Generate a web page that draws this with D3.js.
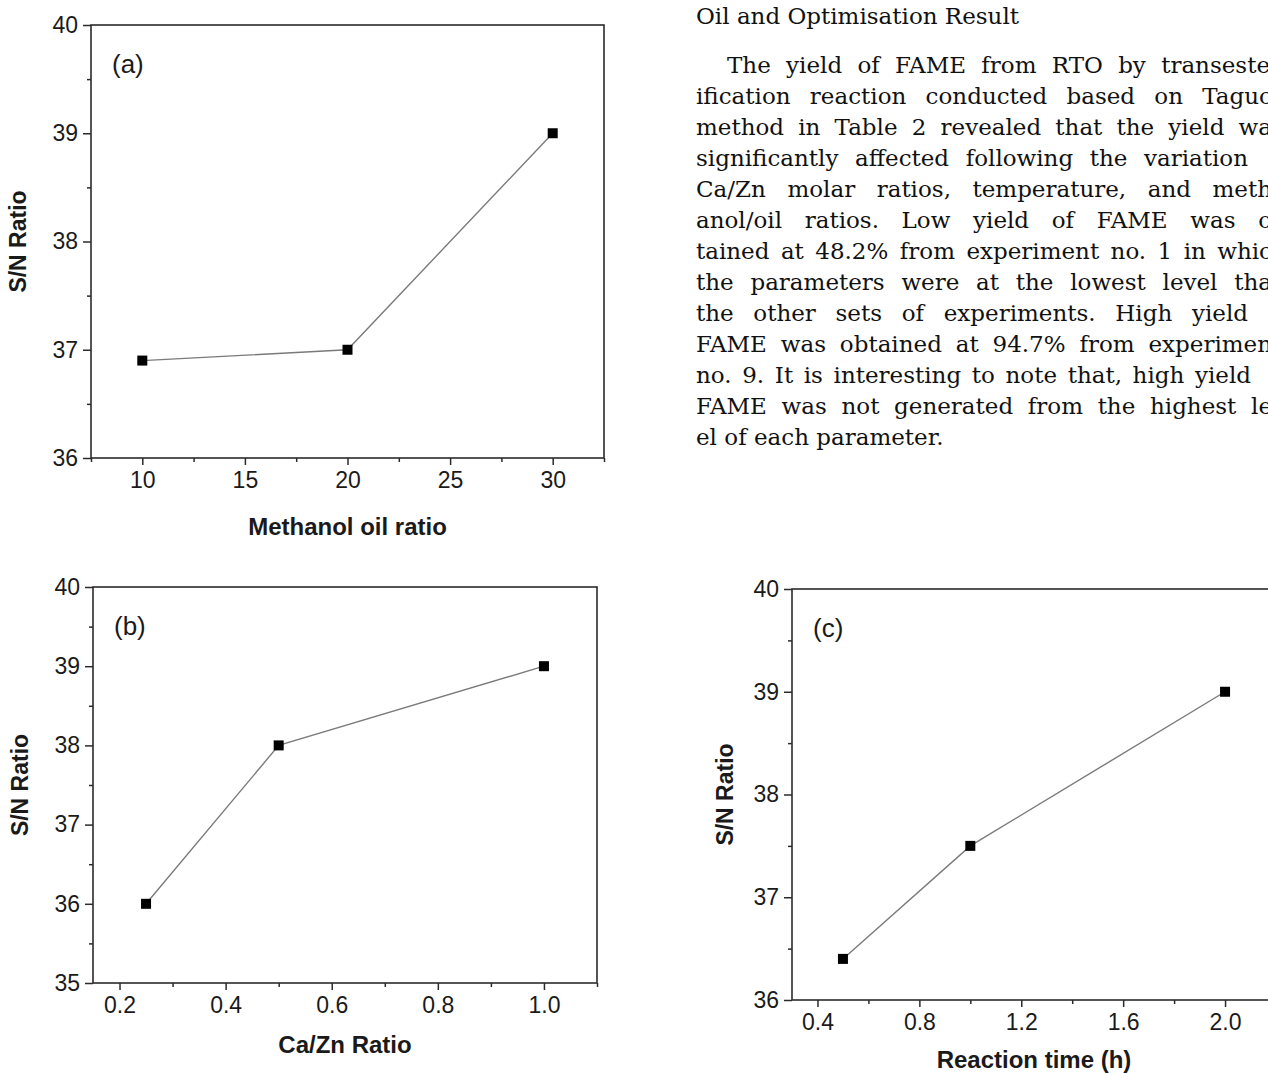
<!DOCTYPE html>
<html>
<head>
<meta charset="utf-8">
<script src="https://cdn.jsdelivr.net/npm/d3@7"></script>
<style>
  html, body { margin: 0; padding: 0; background: #fff; overflow: hidden; }
  svg { display: block; }
</style>
</head>
<body>
<svg id="page" width="1268" height="1073"></svg>
<script>
// ---- Panel (a): S/N ratio vs methanol/oil ratio ----
const methanolRatio = [10, 20, 30];
const snMethanol = [36.9, 37.0, 39.0];
const xTicksA = [10, 15, 20, 25, 30];
const xMinorA = [7.5, 12.5, 17.5, 22.5, 27.5, 32.5];
const yTicksA = [36, 37, 38, 39, 40];
const yMinorA = [36.5, 37.5, 38.5, 39.5];

// ---- Panel (b): S/N ratio vs Ca/Zn ratio ----
const caZnRatio = [0.25, 0.5, 1.0];
const snCaZn = [36.0, 38.0, 39.0];
const xTicksB = [0.2, 0.4, 0.6, 0.8, 1.0];
const xMinorB = [0.3, 0.5, 0.7, 0.9, 1.1];
const yTicksB = [35, 36, 37, 38, 39, 40];
const yMinorB = [35.5, 36.5, 37.5, 38.5, 39.5];

// ---- Panel (c): S/N ratio vs reaction time ----
const reactionTime = [0.5, 1.0, 2.0];
const snTime = [36.4, 37.5, 39.0];
const xTicksC = [0.4, 0.8, 1.2, 1.6, 2.0];
const xMinorC = [0.6, 1.0, 1.4, 1.8, 2.2];
const yTicksC = [36, 37, 38, 39, 40];
const yMinorC = [36.5, 37.5, 38.5, 39.5];

// ---- Body text beside the figures ----
const headingLine = "Oil and Optimisation Result";
const bodyLines = [
  "The yield of FAME from RTO by transeste",
  "ification reaction conducted based on Taguc",
  "method in Table 2 revealed that the yield wa",
  "significantly affected following the variation",
  "Ca/Zn molar ratios, temperature, and meth",
  "anol/oil ratios. Low yield of FAME was o",
  "tained at 48.2% from experiment no. 1 in whic",
  "the parameters were at the lowest level tha",
  "the other sets of experiments. High yield",
  "FAME was obtained at 94.7% from experimen",
  "no. 9. It is interesting to note that, high yield",
  "FAME was not generated from the highest le",
  "el of each parameter."
];

const svg = d3.select("#page");
svg.append("rect").attr("width", 1268).attr("height", 1073).attr("fill", "#fff");

const panels = [
  { label: "(a)", xs: methanolRatio, ys: snMethanol, xTitle: "Methanol oil ratio",
    xDomain: [7.5, 32.5], yDomain: [36, 40],
    xTicks: xTicksA, xMinor: xMinorA, yTicks: yTicksA, yMinor: yMinorA,
    xFmt: d3.format("d"),
    box: { x0: 91, x1: 604, y0: 25, y1: 458 }, xTitleDy: 77, yTitleDx: -65 },
  { label: "(b)", xs: caZnRatio, ys: snCaZn, xTitle: "Ca/Zn Ratio",
    xDomain: [0.15, 1.1], yDomain: [35, 40],
    xTicks: xTicksB, xMinor: xMinorB, yTicks: yTicksB, yMinor: yMinorB,
    xFmt: d3.format(".1f"),
    box: { x0: 93, x1: 597, y0: 587, y1: 983 }, xTitleDy: 70, yTitleDx: -65 },
  { label: "(c)", xs: reactionTime, ys: snTime, xTitle: "Reaction time (h)",
    xDomain: [0.3, 2.2], yDomain: [36, 40],
    xTicks: xTicksC, xMinor: xMinorC, yTicks: yTicksC, yMinor: yMinorC,
    xFmt: d3.format(".1f"),
    box: { x0: 792, x1: 1276, y0: 589, y1: 1000 }, xTitleDy: 68, yTitleDx: -59 }
];

const axisColor = "#2b2b2b";
const sansFont = "Liberation Sans, Arial, Helvetica, sans-serif";

panels.forEach(p => {
  const b = p.box;
  const x = d3.scaleLinear().domain(p.xDomain).range([b.x0, b.x1]);
  const y = d3.scaleLinear().domain(p.yDomain).range([b.y1, b.y0]);
  const g = svg.append("g");

  // minor ticks
  g.append("g").attr("transform", `translate(0,${b.y1})`)
    .call(d3.axisBottom(x).tickValues(p.xMinor).tickSize(4).tickFormat(""));
  g.append("g").attr("transform", `translate(${b.x0},0)`)
    .call(d3.axisLeft(y).tickValues(p.yMinor).tickSize(4).tickFormat(""));

  // major ticks with labels
  g.append("g").attr("transform", `translate(0,${b.y1})`)
    .call(d3.axisBottom(x).tickValues(p.xTicks).tickSize(7).tickPadding(7).tickFormat(p.xFmt));
  g.append("g").attr("transform", `translate(${b.x0},0)`)
    .call(d3.axisLeft(y).tickValues(p.yTicks).tickSize(8).tickPadding(5).tickFormat(d3.format("d")));

  g.selectAll(".domain").remove();
  g.selectAll(".tick line").attr("stroke", axisColor).attr("stroke-width", 1.5);
  g.selectAll(".tick text")
    .attr("fill", "#1a1a1a")
    .style("font-family", sansFont)
    .style("font-size", "23px");

  // frame
  g.append("rect")
    .attr("x", b.x0).attr("y", b.y0)
    .attr("width", b.x1 - b.x0).attr("height", b.y1 - b.y0)
    .attr("fill", "none").attr("stroke", axisColor).attr("stroke-width", 1.6);

  // connecting line
  const pts = p.xs.map((v, i) => [v, p.ys[i]]);
  g.append("path")
    .datum(pts)
    .attr("d", d3.line().x(d => x(d[0])).y(d => y(d[1])))
    .attr("fill", "none").attr("stroke", "#7a7a7a").attr("stroke-width", 1.4);

  // square markers
  g.selectAll("rect.marker").data(pts).join("rect")
    .attr("class", "marker")
    .attr("x", d => x(d[0]) - 5).attr("y", d => y(d[1]) - 5)
    .attr("width", 10).attr("height", 10)
    .attr("fill", "#000");

  // panel letter
  g.append("text")
    .attr("x", b.x0 + 21).attr("y", b.y0 + 48)
    .style("font-family", sansFont).style("font-size", "26px")
    .attr("fill", "#1a1a1a")
    .text(p.label);

  // axis titles
  g.append("text")
    .attr("x", (b.x0 + b.x1) / 2).attr("y", b.y1 + p.xTitleDy)
    .attr("text-anchor", "middle")
    .style("font-family", sansFont).style("font-size", "24px").style("font-weight", "bold")
    .attr("fill", "#1a1a1a")
    .text(p.xTitle);
  g.append("text")
    .attr("transform", `translate(${b.x0 + p.yTitleDx},${(b.y0 + b.y1) / 2}) rotate(-90)`)
    .attr("text-anchor", "middle")
    .style("font-family", sansFont).style("font-size", "23px").style("font-weight", "bold")
    .attr("fill", "#1a1a1a")
    .text("S/N Ratio");
});

// ---- text column ----
const serifFont = "DejaVu Serif, Georgia, serif";
const textLeft = 696, indentLeft = 727, lineGap = 31, firstBase = 73;
const lineEnds = [1270, 1272, 1272, 1248, 1272, 1272, 1272, 1272, 1248, 1272, 1251, 1272, null];

const tg = svg.append("g").style("font-family", serifFont).style("font-size", "23px").attr("fill", "#111");
tg.append("text").attr("x", textLeft).attr("y", 24).text(headingLine);

bodyLines.forEach((line, i) => {
  const x0 = i === 0 ? indentLeft : textLeft;
  const t = tg.append("text").attr("x", x0).attr("y", firstBase + i * lineGap).text(line);
  const end = lineEnds[i];
  if (end != null) {
    const len = t.node().getComputedTextLength();
    const spaces = (line.match(/ /g) || []).length;
    const ws = spaces > 0 ? (end - x0 - len) / spaces : 0;
    if (ws >= 0) {
      t.style("word-spacing", ws + "px");
    } else {
      t.attr("textLength", end - x0).attr("lengthAdjust", "spacingAndGlyphs");
    }
  }
});
</script>
</body>
</html>
